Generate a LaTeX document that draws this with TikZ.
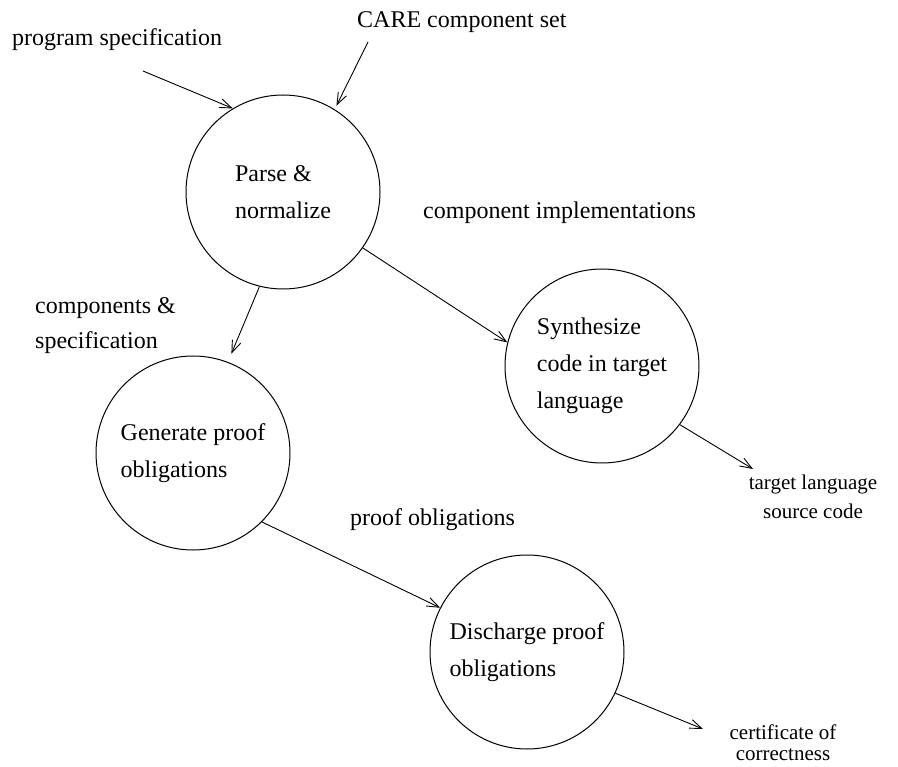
\documentclass[tikz,border=0pt]{standalone}
\usepackage{fontspec}
\setmainfont{Liberation Serif}
\usetikzlibrary{arrows.meta}

\begin{document}
\begin{tikzpicture}[x=1pt, y=-1pt, >={Straight Barb[length=12pt, width=9pt]},
    process/.style={circle, draw, line width=1pt, minimum size=194pt, inner sep=0pt,
        align=left, font=\fontsize{24}{37}\selectfont},
    lbl/.style={anchor=west, inner sep=0pt, align=left, font=\fontsize{24}{35}\selectfont},
    flow/.style={->, line width=0.9pt}]

    \useasboundingbox (0,0) rectangle (898,767);

    % Processes
    \node[process] at (283,192) (parse) {Parse \&\\normalize};
    \node[process] at (602,366) (synth) {Synthesize\\code in target\\language};
    \node[process] at (193,453) (gen) {Generate proof\\obligations};
    \node[process] at (527,652) (dis) {Discharge proof\\obligations};

    % Data labels
    \node[lbl] at (12,40) (spec) {program specification};
    \node[lbl] at (357,22) (care) {CARE component set};
    \node[lbl] at (423,213) (impl) {component implementations};
    \node[lbl] at (35,326) (comps) {components \&\\specification};
    \node[lbl] at (350,520) (obl) {proof obligations};
    \node[align=center, inner sep=0pt, font=\fontsize{21}{29}\selectfont] at (813,497) (src) {target language\\source code};
    \node[align=center, inner sep=0pt, font=\fontsize{21}{21}\selectfont] at (783,743) (cert) {certificate of\\correctness};

    % Free ends
    \coordinate (specin) at (143,71);
    \coordinate (carein) at (368,42);
    \coordinate (srcout) at (753,469);
    \coordinate (certout) at (703,729);

    % Flows
    \draw[flow] (specin) -- (parse.121);
    \draw[flow, shorten >=4pt] (carein) -- (parse.58);
    \draw[flow] (parse.-35) -- (synth.166);
    \draw[flow, shorten >=9pt] (parse.-104) -- (gen.69);
    \draw[flow] (synth.-37) -- (srcout);
    \draw[flow] (gen.-45) -- (dis.153);
    \draw[flow] (dis.-25) -- (certout);

\end{tikzpicture}
\end{document}
